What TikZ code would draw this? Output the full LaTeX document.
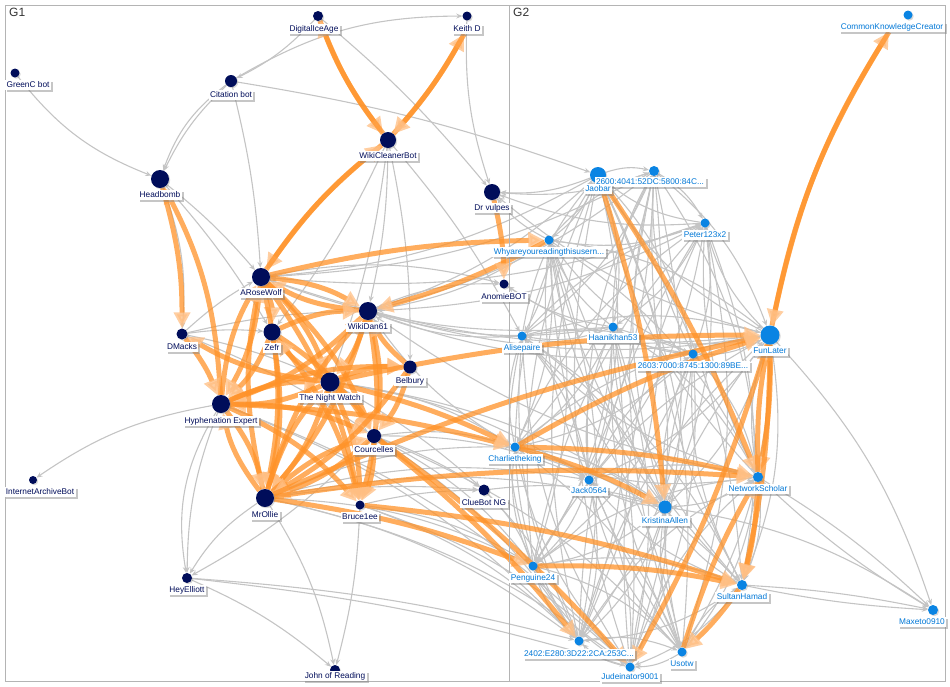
\documentclass[tikz,border=0pt]{standalone}
\usepackage{fontspec}
\setmainfont{Liberation Sans}
\usetikzlibrary{arrows.meta,shadows}
\definecolor{navy}{RGB}{0,13,90}
\definecolor{nblue}{RGB}{10,132,227}
\definecolor{tblue}{RGB}{0,120,215}
\definecolor{egray}{RGB}{196,196,196}
\definecolor{eorange}{RGB}{255,146,40}
\definecolor{otip}{RGB}{255,190,130}
\definecolor{framegray}{RGB}{180,180,180}
\pgfdeclarelayer{edges}
\pgfsetlayers{edges,main}
\begin{document}
\begin{tikzpicture}[x=1pt,y=-1pt,
 v1/.style={circle,fill=navy,inner sep=0pt,drop shadow={shadow xshift=1.2pt,shadow yshift=-1.2pt,opacity=0.3}},
 v2/.style={circle,fill=nblue,inner sep=0pt,drop shadow={shadow xshift=1.2pt,shadow yshift=-1.2pt,opacity=0.3}},
 lab/.style={fill=white,inner xsep=1.5pt,inner ysep=1pt,text height=6pt,text depth=1.7pt,font=\fontsize{8.3}{9}\selectfont,drop shadow={shadow xshift=2pt,shadow yshift=-2pt,opacity=0.45}},
 l1/.style={lab,text=navy},
 l2/.style={lab,text=tblue},
 ge/.style={draw=egray,line width=1.1pt,-{Stealth[length=6pt,width=5pt]},bend left=12},
 oe/.style={draw=eorange,line width=5pt,opacity=0.75,-{Triangle[length=16pt,width=16pt,color=otip]},bend left=12},
 frame/.style={draw=framegray,line width=1pt},
 ttl/.style={font=\fontsize{12}{13}\selectfont,text=black!80,anchor=north west,inner sep=0pt}
]
\useasboundingbox (0,0) rectangle (950,686);
\draw[frame] (5.5,5.5) rectangle (509.5,681);
\draw[frame] (509.5,5.5) rectangle (945.5,681);
\node[ttl] (t1) at (9,8) {G1};
\node[ttl] (t2) at (513,8) {G2};
% G1 vertices
\node[v1,minimum size=9pt] (gc) at (15,73) {};
\node[v1,minimum size=10pt] (dia) at (318,16) {};
\node[v1,minimum size=9pt] (kd) at (467,16) {};
\node[v1,minimum size=12pt] (cb) at (231,81) {};
\node[v1,minimum size=16pt] (wcb) at (388,140) {};
\node[v1,minimum size=18pt] (hb) at (160,179) {};
\node[v1,minimum size=16pt] (dv) at (492,192) {};
\node[v1,minimum size=18pt] (arw) at (261,277) {};
\node[v1,minimum size=9pt] (anb) at (504,284) {};
\node[v1,minimum size=11pt] (dm) at (182,334) {};
\node[v1,minimum size=17pt] (zf) at (272,332) {};
\node[v1,minimum size=18pt] (wd) at (368,311) {};
\node[v1,minimum size=19pt] (tnw) at (330,382) {};
\node[v1,minimum size=13pt] (bel) at (410,367) {};
\node[v1,minimum size=18pt] (hy) at (221,404) {};
\node[v1,minimum size=14pt] (cou) at (374,436) {};
\node[v1,minimum size=8pt] (iab) at (33,480) {};
\node[v1,minimum size=18pt] (mo) at (265,498) {};
\node[v1,minimum size=9pt] (br) at (360,505) {};
\node[v1,minimum size=11pt] (cng) at (484,490) {};
\node[v1,minimum size=10pt] (he) at (187,578) {};
\node[v1,minimum size=10pt] (jor) at (335,670) {};
% G2 vertices
\node[v2,minimum size=9pt] (ckc) at (908,15) {};
\node[v2,minimum size=16pt] (jao) at (598,175) {};
\node[v2,minimum size=10pt] (s26) at (654,171) {};
\node[v2,minimum size=9pt] (pet) at (705,223) {};
\node[v2,minimum size=9pt] (why) at (549,240) {};
\node[v2,minimum size=19pt] (fun) at (770,335) {};
\node[v2,minimum size=9pt] (haa) at (613,327) {};
\node[v2,minimum size=9pt] (ali) at (522,336) {};
\node[v2,minimum size=9pt] (s2603) at (693,354) {};
\node[v2,minimum size=9pt] (cha) at (515,447) {};
\node[v2,minimum size=9pt] (jac) at (589,480) {};
\node[v2,minimum size=10pt] (net) at (758,477) {};
\node[v2,minimum size=13pt] (kri) at (665,507) {};
\node[v2,minimum size=9pt] (pen) at (533,566) {};
\node[v2,minimum size=10pt] (sul) at (742,585) {};
\node[v2,minimum size=10pt] (max) at (933,610) {};
\node[v2,minimum size=9pt] (s24) at (579,641) {};
\node[v2,minimum size=9pt] (uso) at (682,652) {};
\node[v2,minimum size=9pt] (jud) at (630,667) {};
% labels
\node[l1] (gcL) at (28,85) {GreenC bot};
\node[l1] (diaL) at (314,29) {DigitalIceAge};
\node[l1] (kdL) at (467,29) {Keith D};
\node[l1] (cbL) at (231,95) {Citation bot};
\node[l1] (wcbL) at (388,156) {WikiCleanerBot};
\node[l1] (hbL) at (160,195) {Headbomb};
\node[l1] (dvL) at (492,208) {Dr vulpes};
\node[l1] (arwL) at (261,293) {ARoseWolf};
\node[l1] (anbL) at (504,297) {AnomieBOT};
\node[l1] (dmL) at (182,347) {DMacks};
\node[l1] (zfL) at (272,348) {Zefr};
\node[l1] (wdL) at (368,327) {WikiDan61};
\node[l1] (tnwL) at (330,398) {The Night Watch};
\node[l1] (belL) at (410,381) {Belbury};
\node[l1] (hyL) at (221,421) {Hyphenation Expert};
\node[l1] (couL) at (374,450) {Courcelles};
\node[l1] (iabL) at (40,492) {InternetArchiveBot};
\node[l1] (moL) at (265,515) {MrOllie};
\node[l1] (brL) at (360,517) {Bruce1ee};
\node[l1] (cngL) at (484,503) {ClueBot NG};
\node[l1] (heL) at (187,590) {HeyElliott};
\node[l1] (jorL) at (335,676) {John of Reading};
\node[l2] (ckcL) at (892,27) {CommonKnowledgeCreator};
\node[l2] (s26L) at (650,182) {2600:4041:52DC:5800:84C...};
\node[l2] (jaoL) at (598,189) {Jaobar};
\node[l2] (petL) at (705,235) {Peter123x2};
\node[l2] (whyL) at (549,252) {Whyareyoureadingthisusern...};
\node[l2] (funL) at (770,351) {FunLater};
\node[l2] (haaL) at (613,338) {Haanikhan53};
\node[l2] (aliL) at (522,348) {Alisepaire};
\node[l2] (s2603L) at (693,366) {2603:7000:8745:1300:89BE...};
\node[l2] (chaL) at (515,459) {Charlietheking};
\node[l2] (jacL) at (589,491) {Jack0564};
\node[l2] (netL) at (758,489) {NetworkScholar};
\node[l2] (kriL) at (665,521) {KristinaAllen};
\node[l2] (penL) at (533,578) {Penguine24};
\node[l2] (sulL) at (742,597) {SultanHamad};
\node[l2] (maxL) at (922,622) {Maxeto0910};
\node[l2] (s24L) at (579,654) {2402:E280:3D22:2CA:253C...};
\node[l2] (usoL) at (682,664) {Usotw};
\node[l2] (judL) at (630,677) {Judeinator9001};
\begin{pgfonlayer}{edges}
% gray edges, G2 (dense)
\foreach \a [count=\i] in {jao,s26,pet,why,fun,haa,ali,s2603,cha,jac,net,kri,pen,sul,s24,uso,jud}{
  \foreach \b [count=\j] in {jao,s26,pet,why,fun,haa,ali,s2603,cha,jac,net,kri,pen,sul,s24,uso,jud}{
    \ifnum\j>\i
      \ifodd\numexpr\i+\j\relax
        \draw[ge,bend left=15] (\a) to (\b);
      \else
        \draw[ge,bend left=15] (\b) to (\a);
      \fi
    \fi
  }
}
% gray edges, G2 -> G1
\foreach \a in {jao,s26,pet,fun,haa,s2603,ali,why,cha,net}{\draw[ge] (\a) to (wd);}
\foreach \a in {jao,s26,fun,pet,haa}{\draw[ge] (\a) to (arw);}
\foreach \a in {jao,s26,pet,why,fun}{\draw[ge] (\a) to (dv);}
\foreach \a in {haa,s2603}{\draw[ge] (\a) to (anb);}
\foreach \b in {cha,jac,pen,s24,kri,jud}{\draw[ge] (mo) to (\b);}
\foreach \b in {cha,jac,pen,s24,uso}{\draw[ge] (cou) to (\b);}
\foreach \b in {pen,s24,jud}{\draw[ge] (br) to (\b);}
\foreach \b in {cha,jac,kri}{\draw[ge] (tnw) to (\b);}
\foreach \b in {s24,jud}{\draw[ge] (hy) to (\b);}
\foreach \b in {pen,s24,kri}{\draw[ge] (cng) to (\b);}
\foreach \a in {fun,kri}{\draw[ge] (\a) to (max);}
\draw[ge,bend left=6] (net) to (max);
\draw[ge,bend right=6] (net) to (max);
\draw[ge,bend left=4] (sul) to (max);
\draw[ge,bend right=4] (sul) to (max);
% gray edges, G1
\draw[ge,bend right=15] (gc) to (hb);
\draw[ge,bend right=10] (cb) to (hb);
\draw[ge,bend right=16] (cb) to (hb);
\draw[ge,bend left=10] (dia) to (cb);
\draw[ge,bend left=15] (cb) to (kd);
\draw[ge,bend right=10] (kd) to (dv);
\draw[ge,bend left=5] (cb) to (arw);
\draw[ge,bend left=5] (cb) to (jao);
\draw[ge,bend left=5] (dia) to (dv);
\draw[ge] (hb) to (dm);
\draw[ge,bend left=5] (hb) to (arw);
\draw[ge,bend left=5] (hb) to (zf);
\foreach \b in {arw,zf,wd,tnw,cou}{\draw[ge,bend left=6] (dm) to (\b);}
\foreach \b in {zf,tnw,wd,bel,ali}{\draw[ge,bend left=6] (wcb) to (\b);}
\draw[ge,bend right=12] (hy) to (iab);
\draw[ge,bend right=10] (hy) to (he);
\draw[ge,bend right=20] (hy) to (he);
\draw[ge,bend right=12] (mo) to (he);
\draw[ge,bend left=8] (cou) to (he);
\draw[ge,bend left=6] (br) to (jor);
\draw[ge,bend left=10] (mo) to (jor);
\draw[ge,bend left=8] (he) to (jor);
\draw[ge,bend left=5] (he) to (jud);
\draw[ge,bend left=5] (he) to (s24);
\foreach \a in {wd,arw}{\draw[ge] (\a) to (anb);}
\foreach \a in {tnw,cou,mo,br}{\draw[ge,bend left=6] (\a) to (cng);}
% orange edges
\draw[oe,bend right=8] (dia) to (wcb);
\draw[oe,bend left=8] (wcb) to (dia);
\draw[oe,bend right=6] (wcb) to (kdL);
\draw[oe,bend left=6] (kdL) to (wcb);
\draw[oe,bend right=8] (wcb) to (arw);
\draw[oe,bend left=8] (arw) to (wcb);
\draw[oe,bend right=12] (hy) to (hb);
\draw[oe,bend left=8] (hb) to (dm);
\draw[oe,bend left=8] (dm) to (hy);
\foreach \a/\b in {arw/zf,arw/hy,hy/arw,arw/mo,mo/arw,arw/wd,wd/arw,arw/tnw,arw/cou,arw/br,
  zf/mo,zf/wd,zf/hy,zf/br,zf/cou,tnw/zf,wd/hy,wd/mo,mo/wd,wd/tnw,wd/br,wd/cou,bel/wd,
  tnw/hy,hy/tnw,tnw/mo,mo/tnw,tnw/br,tnw/bel,tnw/cou,hy/mo,mo/hy,hy/cou,hy/br,hy/bel,
  cou/mo,mo/cou,cou/br,bel/mo,bel/cou,tnw/dm}{\draw[oe] (\a) to (\b);}
\foreach \a/\b in {arw/why,why/wd,dv/anb,tnw/fun,mo/fun,cha/fun,hy/cha,tnw/cha,mo/net,mo/pen,
  cou/jud,cou/s24,pen/sul,br/sul,jao/kri,jao/net,fun/net,net/fun,fun/sul,net/sul,uso/net,
  fun/jud,sul/uso,cha/net,cha/kri}{\draw[oe,bend left=6] (\a) to (\b);}
\draw[oe,bend left=10] (fun) to (ckcL);
\draw[oe,bend right=10] (ckcL) to (fun);
\end{pgfonlayer}
\end{tikzpicture}
\end{document}
